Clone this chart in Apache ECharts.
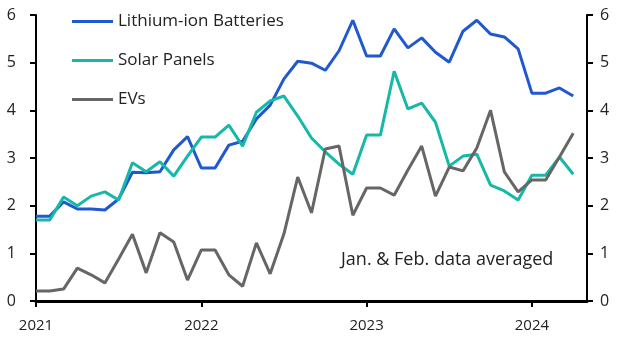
<!DOCTYPE html>
<html>
<head>
<meta charset="utf-8">
<script src="https://cdn.jsdelivr.net/npm/echarts@6/dist/echarts.min.js"></script>
<style>
  html, body { margin: 0; padding: 0; background: #fff; }
  #chart { width: 629px; height: 354px; }
</style>
</head>
<body>
<div id="chart"></div>
<script>
// months Jan 2021 .. May 2024 (last slot empty, axis runs a little past the data)
const months = [];
for (let y = 2021; y <= 2024; y++) {
  for (let m = 1; m <= 12; m++) {
    if (y === 2024 && m > 5) break;
    months.push(y + '-' + m);
  }
}

const lithium = [1.78, 1.78, 2.08, 1.93, 1.93, 1.91, 2.14, 2.70, 2.69, 2.71, 3.17, 3.45,
  2.79, 2.79, 3.27, 3.35, 3.82, 4.11, 4.66, 5.03, 4.99, 4.84, 5.25, 5.89,
  5.14, 5.14, 5.71, 5.31, 5.52, 5.22, 5.01, 5.66, 5.89, 5.60, 5.54, 5.29,
  4.36, 4.36, 4.47, 4.30];
const solar = [1.70, 1.70, 2.18, 2.00, 2.20, 2.29, 2.12, 2.90, 2.71, 2.92, 2.62, 3.04,
  3.44, 3.44, 3.69, 3.25, 3.96, 4.20, 4.30, 3.88, 3.42, 3.13, 2.87, 2.66,
  3.48, 3.48, 4.82, 4.03, 4.15, 3.75, 2.83, 3.04, 3.08, 2.43, 2.31, 2.12,
  2.64, 2.64, 3.02, 2.66];
const evs = [0.21, 0.21, 0.25, 0.69, 0.55, 0.38, 0.88, 1.40, 0.59, 1.43, 1.24, 0.44,
  1.07, 1.07, 0.55, 0.31, 1.22, 0.57, 1.41, 2.60, 1.85, 3.19, 3.25, 1.80,
  2.37, 2.37, 2.22, 2.75, 3.25, 2.20, 2.81, 2.73, 3.21, 4.00, 2.71, 2.29,
  2.54, 2.54, 3.02, 3.52];

const font = '"Open Sans", sans-serif';

let myChart = echarts.init(document.getElementById('chart'));
myChart.setOption({
  animation: false,
  grid: { left: 36, right: 42, top: 15, bottom: 53 },
  legend: {
    orient: 'vertical',
    left: 67,
    top: 5,
    itemGap: 16,
    itemWidth: 41,
    itemHeight: 3,
    icon: 'rect',
    textStyle: { fontFamily: font, fontSize: 17, color: '#222', lineHeight: 23 },
    data: ['Lithium-ion Batteries', 'Solar Panels', 'EVs']
  },
  xAxis: {
    type: 'category',
    data: months,
    boundaryGap: false,
    axisLine: { lineStyle: { color: '#000', width: 3 } },
    axisTick: { interval: 11, length: 6, lineStyle: { color: '#000', width: 2 } },
    axisLabel: {
      interval: 11,
      fontFamily: font, fontSize: 15, color: '#222', margin: 17,
      formatter: (v) => v.split('-')[0]
    },
    splitLine: { show: false }
  },
  yAxis: [
    {
      type: 'value', min: 0, max: 6, interval: 1, position: 'left',
      axisLine: { show: true, lineStyle: { color: '#000', width: 2 } },
      axisTick: { show: true, length: 6, lineStyle: { color: '#000', width: 2 } },
      axisLabel: { fontFamily: font, fontSize: 16, color: '#222', margin: 20 },
      splitLine: { show: false }
    },
    {
      type: 'value', min: 0, max: 6, interval: 1, position: 'right',
      axisLine: { show: true, lineStyle: { color: '#000', width: 2 } },
      axisTick: { show: true, length: 6, lineStyle: { color: '#000', width: 2 } },
      axisLabel: { fontFamily: font, fontSize: 16, color: '#222', margin: 13 },
      splitLine: { show: false }
    }
  ],
  graphic: [{
    type: 'text',
    left: 341,
    top: 251,
    style: { text: 'Jan. & Feb. data averaged', font: '18px ' + font, fill: '#222' }
  }],
  series: [
    {
      name: 'Lithium-ion Batteries', type: 'line', data: lithium,
      symbol: 'none', color: '#1f58cf', lineStyle: { width: 3 }
    },
    {
      name: 'Solar Panels', type: 'line', data: solar,
      symbol: 'none', color: '#16b8a7', lineStyle: { width: 3 }
    },
    {
      name: 'EVs', type: 'line', data: evs,
      symbol: 'none', color: '#666666', lineStyle: { width: 3 }
    }
  ]
});
</script>
</body>
</html>
